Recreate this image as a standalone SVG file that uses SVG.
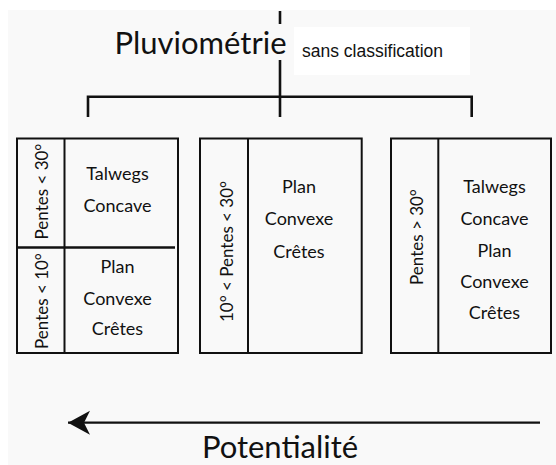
<svg xmlns="http://www.w3.org/2000/svg" width="556" height="465" viewBox="0 0 556 465">
  <style>
    .t { font-family: Lato, "Open Sans", "Noto Sans", sans-serif; fill: #111; }
    .big { font-size: 31px; }
    .box-t { font-size: 18px; text-anchor: middle; }
    .rot { font-size: 17px; text-anchor: middle; }
    .small { font-family: "Liberation Sans", Arial, sans-serif; font-size: 17.5px; fill: #111; }
    .ln { stroke: #111; fill: none; }
    .tree { stroke-width: 2.6; }
    .frame { stroke-width: 2; }
  </style>
  <defs>
    <marker id="ah" markerUnits="userSpaceOnUse" markerWidth="24" markerHeight="26" refX="22" refY="13" orient="auto" viewBox="0 0 24 26">
      <path d="M22,13 L0,1 L6,13 L0,25 Z" fill="#111"/>
    </marker>
  </defs>
  <rect x="0" y="0" width="556" height="465" fill="#ffffff"/>
  <rect x="8" y="10" width="548" height="455" fill="#f9f9f9"/>
  <rect x="294" y="27" width="176" height="48" fill="#ffffff"/>

  <g id="title">
    <text class="t big" x="200.5" y="53.5" text-anchor="middle">Pluviométrie</text>
  </g>
  <g id="note">
    <text class="small" x="302" y="57.3">sans classification</text>
  </g>

  <g id="connectors">
    <line class="ln tree" x1="280" y1="11" x2="280" y2="24"/>
    <line class="ln tree" x1="280" y1="60" x2="280" y2="117"/>
    <polyline class="ln tree" points="88,117 88,96.7 471.7,96.7 471.7,117"/>
    <line class="ln" stroke-width="2.2" x1="540" y1="422.7" x2="68" y2="422.7" marker-end="url(#ah)"/>
  </g>

  <g id="box1">
    <rect class="ln frame" x="17" y="138.5" width="161" height="214.5"/>
    <line class="ln frame" x1="64.5" y1="138.5" x2="64.5" y2="353"/>
    <line class="ln" stroke-width="2.6" x1="17" y1="247.5" x2="175" y2="247.5"/>
    <text class="t rot" transform="translate(47.5,191.5) rotate(-90)">Pentes &lt; 30°</text>
    <text class="t rot" transform="translate(47.5,301) rotate(-90)">Pentes &lt; 10°</text>
    <text class="t box-t" x="117.5" y="180">Talwegs</text>
    <text class="t box-t" x="117.5" y="212">Concave</text>
    <text class="t box-t" x="117.5" y="273">Plan</text>
    <text class="t box-t" x="117.5" y="305">Convexe</text>
    <text class="t box-t" x="117.5" y="335">Crêtes</text>
  </g>

  <g id="box2">
    <rect class="ln frame" x="200" y="138.5" width="161.7" height="214.5"/>
    <line class="ln frame" x1="248" y1="138.5" x2="248" y2="353"/>
    <text class="t rot" transform="translate(232.5,251.5) rotate(-90)">10° &lt; Pentes &lt; 30°</text>
    <text class="t box-t" x="299" y="193">Plan</text>
    <text class="t box-t" x="299" y="225">Convexe</text>
    <text class="t box-t" x="299" y="258">Crêtes</text>
  </g>

  <g id="box3">
    <rect class="ln frame" x="391" y="138.5" width="160" height="214.5"/>
    <line class="ln frame" x1="438.3" y1="138.5" x2="438.3" y2="353"/>
    <text class="t rot" transform="translate(423,237) rotate(-90)">Pentes &gt; 30°</text>
    <text class="t box-t" x="494.5" y="193">Talwegs</text>
    <text class="t box-t" x="494.5" y="225">Concave</text>
    <text class="t box-t" x="494.5" y="256.5">Plan</text>
    <text class="t box-t" x="494.5" y="288">Convexe</text>
    <text class="t box-t" x="494.5" y="318.5">Crêtes</text>
  </g>

  <g id="axis">
    <text class="t big" x="280" y="458" text-anchor="middle">Potentialité</text>
  </g>
</svg>
